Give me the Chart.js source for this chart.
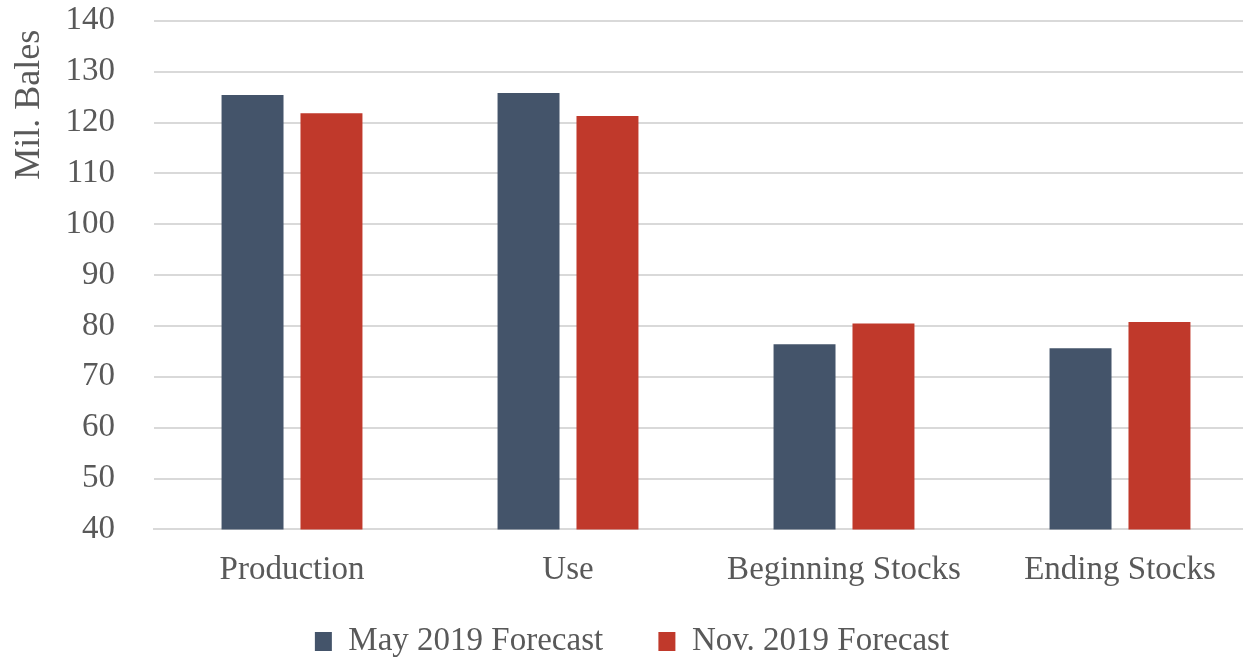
<!DOCTYPE html>
<html>
<head>
<meta charset="utf-8">
<script src="https://cdn.jsdelivr.net/npm/chart.js@4"></script>
<style>
  html, body { margin: 0; padding: 0; background: #fff; overflow: hidden; }
  #wrap { width: 1243px; height: 660px; overflow: hidden; }
</style>
</head>
<body>
<div id="wrap"><canvas id="myBarChart" width="1258" height="660"></canvas></div>
<script>
const categories = ['Production', 'Use', 'Beginning Stocks', 'Ending Stocks'];
const seriesNames = ['May 2019 Forecast', 'Nov. 2019 Forecast'];
const may2019 = [125.4, 125.8, 76.4, 75.6];
const nov2019 = [121.8, 121.3, 80.5, 80.8];
const yTicks = [40, 50, 60, 70, 80, 90, 100, 110, 120, 130, 140];

const textColor = '#595959';
const serif = "'Liberation Serif', 'Times New Roman', serif";
const fontSize = 33;

const ctx = document.getElementById('myBarChart').getContext('2d');
new Chart(ctx, {
    type: 'bar',
    data: {
        labels: categories,
        datasets: [{
            label: seriesNames[0],
            data: may2019,
            backgroundColor: '#44546a',
        }, {
            label: seriesNames[1],
            data: nov2019,
            backgroundColor: '#c0392b',
        }]
    },
    options: {
        responsive: false,
        animation: false,
        layout: { padding: { top: 0, right: 0, left: 6, bottom: -8 } },
        datasets: {
            bar: { categoryPercentage: 0.572, barPercentage: 0.785 }
        },
        scales: {
            x: {
                grid: { display: false, drawTicks: false },
                border: { color: '#d9d9d9', width: 2 },
                ticks: { color: textColor, font: { family: serif, size: fontSize }, padding: 21 }
            },
            y: {
                min: 40,
                max: 140,
                afterBuildTicks: axis => { axis.ticks = yTicks.map(v => ({ value: v })); },
                afterFit: axis => { axis.width = 154 - 6; },
                grid: { color: '#d9d9d9', lineWidth: 2, drawTicks: true, tickLength: 38, tickColor: 'rgba(0,0,0,0)' },
                border: { display: false },
                ticks: { color: textColor, font: { family: serif, size: fontSize }, padding: 1 },
                title: {
                    display: true,
                    text: 'Mil. Bales ',
                    align: 'end',
                    color: textColor,
                    font: { family: serif, size: 36 },
                    padding: { top: 2, bottom: 8 }
                }
            }
        },
        plugins: {
            legend: {
                position: 'bottom',
                labels: {
                    color: textColor,
                    font: { family: serif, size: fontSize },
                    boxWidth: 17,
                    boxHeight: 19,
                    padding: 14,
                    generateLabels: chart => {
                        const items = Chart.defaults.plugins.legend.labels.generateLabels(chart);
                        items[0].text = items[0].text + '     ';
                        return items;
                    }
                }
            },
            tooltip: { enabled: false }
        }
    }
});
</script>
</body>
</html>
